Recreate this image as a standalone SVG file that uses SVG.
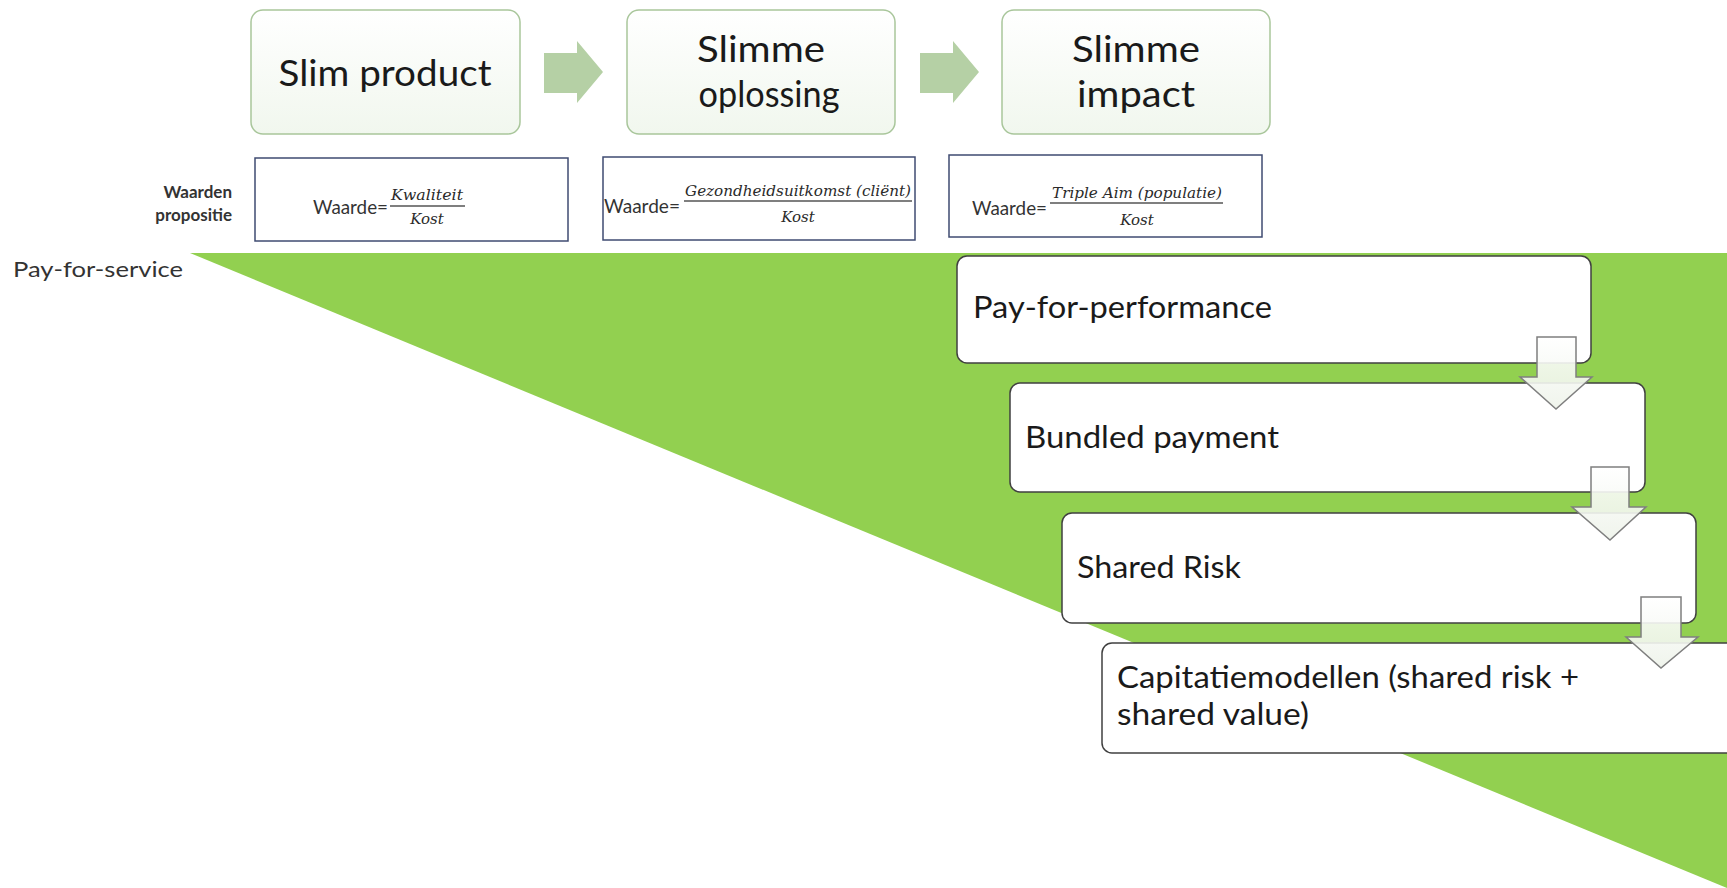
<svg xmlns="http://www.w3.org/2000/svg" width="1727" height="888" viewBox="0 0 1727 888">
<defs>
<linearGradient id="topFill" x1="0" y1="0" x2="0" y2="1">
<stop offset="0" stop-color="#ffffff"/>
<stop offset="1" stop-color="#f1f7ee"/>
</linearGradient>
<linearGradient id="downFill" x1="0" y1="0" x2="0" y2="1">
<stop offset="0" stop-color="#ffffff"/>
<stop offset="1" stop-color="#eef3ea"/>
</linearGradient>
<style>
.top{fill:url(#topFill);stroke:#a9c69b;stroke-width:1.5}
.tt{font-family:Lato,"Liberation Sans",sans-serif;font-size:37px;fill:#1a1a1a;text-anchor:middle}
.fbox{fill:#ffffff;stroke:#3f4b72;stroke-width:1.5}
.wd{font-family:Lato,"Liberation Sans",sans-serif;font-size:19px;fill:#333333}
.lbl{font-family:Lato,"Liberation Sans",sans-serif;font-size:17px;font-weight:bold;fill:#333333;text-anchor:end}
.math{font-family:"DejaVu Serif","Liberation Serif",serif;font-style:italic;font-size:15px;fill:#2a2a2a;text-anchor:middle}
.fl{stroke:#555555;stroke-width:1.5}
.bbox{fill:#ffffff;stroke:#404040;stroke-width:1.5}
.bt{font-family:Lato,"Liberation Sans",sans-serif;font-size:31px;fill:#1a1a1a}
.chev{fill:#b5d0a5}
.down{fill:url(#downFill);fill-opacity:0.9;stroke:#7f7f7f;stroke-width:1.5}
</style>
</defs>
<rect width="1727" height="888" fill="#ffffff"/>
<g id="triangle">
<polygon points="190,253 1727,253 1727,888" fill="#92d050"/>
</g>
<text id="pay-for-service" x="13" y="277" font-family="Lato,'Liberation Sans',sans-serif" font-size="22" fill="#333333" textLength="170" lengthAdjust="spacingAndGlyphs">Pay-for-service</text>
<g id="slim-product">
<rect class="top" x="251" y="10" width="269" height="124" rx="12"/>
<text class="tt" x="385" y="86" textLength="213" lengthAdjust="spacingAndGlyphs">Slim product</text>
</g>
<g id="slimme-oplossing">
<rect class="top" x="627" y="10" width="268" height="124" rx="12"/>
<text class="tt" x="761" y="62" textLength="128" lengthAdjust="spacingAndGlyphs">Slimme</text>
<text class="tt" x="769" y="107" textLength="141" lengthAdjust="spacingAndGlyphs">oplossing</text>
</g>
<g id="slimme-impact">
<rect class="top" x="1002" y="10" width="268" height="124" rx="12"/>
<text class="tt" x="1136" y="62" textLength="128" lengthAdjust="spacingAndGlyphs">Slimme</text>
<text class="tt" x="1136" y="107" textLength="118" lengthAdjust="spacingAndGlyphs">impact</text>
</g>
<g id="waarden-propositie">
<text class="lbl" x="232" y="198">Waarden</text>
<text class="lbl" x="232" y="221">propositie</text>
</g>
<g id="formula-kwaliteit">
<rect class="fbox" x="255" y="158" width="313" height="83"/>
<text class="wd" x="313" y="214" textLength="75" lengthAdjust="spacingAndGlyphs">Waarde=</text>
<text class="math" x="427" y="200" textLength="72" lengthAdjust="spacingAndGlyphs">Kwaliteit</text>
<line class="fl" x1="390" y1="206" x2="465" y2="206"/>
<text class="math" x="427" y="224">Kost</text>
</g>
<g id="formula-gezondheid">
<rect class="fbox" x="603" y="157" width="312" height="83"/>
<text class="wd" x="604" y="213" textLength="76" lengthAdjust="spacingAndGlyphs">Waarde=</text>
<text class="math" x="798" y="196" textLength="226" lengthAdjust="spacingAndGlyphs">Gezondheidsuitkomst (cliënt)</text>
<line class="fl" x1="684" y1="201" x2="912" y2="201"/>
<text class="math" x="798" y="222">Kost</text>
</g>
<g id="formula-triple-aim">
<rect class="fbox" x="949" y="155" width="313" height="82"/>
<text class="wd" x="972" y="215" textLength="75" lengthAdjust="spacingAndGlyphs">Waarde=</text>
<text class="math" x="1137" y="198" textLength="170" lengthAdjust="spacingAndGlyphs">Triple Aim (populatie)</text>
<line class="fl" x1="1050" y1="203" x2="1223" y2="203"/>
<text class="math" x="1137" y="225">Kost</text>
</g>
<g id="pay-for-performance">
<rect class="bbox" x="957" y="256" width="634" height="107" rx="10"/>
<text class="bt" x="973" y="318" textLength="299" lengthAdjust="spacingAndGlyphs">Pay-for-performance</text>
</g>
<g id="bundled-payment">
<rect class="bbox" x="1010" y="383" width="635" height="109" rx="10"/>
<text class="bt" x="1025" y="448" textLength="254" lengthAdjust="spacingAndGlyphs">Bundled payment</text>
</g>
<g id="shared-risk">
<rect class="bbox" x="1062" y="513" width="634" height="110" rx="10"/>
<text class="bt" x="1077" y="578" textLength="164" lengthAdjust="spacingAndGlyphs">Shared Risk</text>
</g>
<g id="capitatiemodellen">
<rect class="bbox" x="1102" y="643" width="700" height="110" rx="10"/>
<text class="bt" x="1117" y="688" textLength="462" lengthAdjust="spacingAndGlyphs">Capitatiemodellen (shared risk +</text>
<text class="bt" x="1117" y="725" textLength="192" lengthAdjust="spacingAndGlyphs">shared value)</text>
</g>
<g id="connectors">
<path class="chev" d="M544,53 H577 V41 L603,72 L577,103 V93 H544 Z"/>
<path class="chev" d="M920,53 H953 V41 L979,72 L953,103 V93 H920 Z"/>
<path class="down" d="M1537,337 H1576 V377 H1592 L1556,409 L1520,377 H1537 Z"/>
<path class="down" d="M1591,467 H1629 V507 H1646 L1610,540 L1572,507 H1591 Z"/>
<path class="down" d="M1641,597 H1681 V637 H1698 L1661,668 L1626,637 H1641 Z"/>
</g>
</svg>
